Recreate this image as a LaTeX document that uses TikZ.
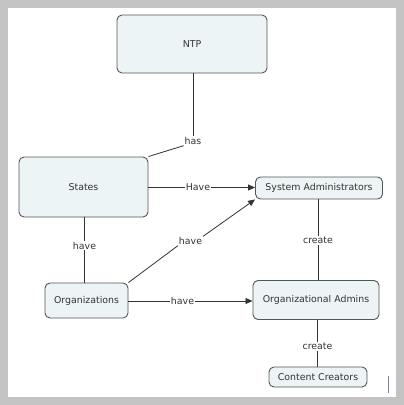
\documentclass[tikz,border=0pt]{standalone}
\usepackage{fontspec}
\setmainfont{DejaVu Sans}
\usetikzlibrary{arrows.meta}
\definecolor{bgray}{HTML}{C3C3C3}
\definecolor{boxfill}{HTML}{EDF4F6}
\definecolor{boxline}{HTML}{555555}
\definecolor{linkc}{HTML}{333333}
\definecolor{markc}{HTML}{7383AD}
\tikzset{
  concept/.style={draw=boxline, fill=boxfill, rounded corners=5pt, line width=0.9pt, inner sep=0pt,
    font=\fontsize{9.4}{11}\selectfont, text=black!80},
  linklabel/.style={fill=white, inner sep=0.8pt, font=\fontsize{9.4}{11}\selectfont, text=black!80},
  conn/.style={draw=linkc, line width=0.8pt},
  arr/.style={conn, -{Triangle[length=7pt,width=6pt]}},
}
\begin{document}
\begin{tikzpicture}[x=1pt,y=-1pt]
\useasboundingbox (0,0) rectangle (404,405);
\fill[bgray] (0,0) rectangle (404,405);
\fill[white] (8,8) rectangle (396,397);
% concepts
\node[concept, minimum width=150pt, minimum height=58pt] (ntp) at (192,44) {NTP};
\node[concept, minimum width=129pt, minimum height=60pt] (states) at (83.5,187) {States};
\node[concept, minimum width=127pt, minimum height=22pt] (sys) at (319,188) {System Administrators};
\node[concept, minimum width=83pt, minimum height=35pt] (org) at (86.5,300.5) {Organizations};
\node[concept, minimum width=126pt, minimum height=39pt] (oadm) at (316,300) {Organizational Admins};
\node[concept, minimum width=98pt, minimum height=20pt] (cc) at (318,377) {Content Creators};
% link labels
\node[linklabel] (lhas) at (193,141) {has};
\node[linklabel] (lhave1) at (198,187.5) {Have};
\node[linklabel] (lhave2) at (84.5,245.5) {have};
\node[linklabel] (lhave3) at (190.5,241) {have};
\node[linklabel] (lhave4) at (182.5,301) {have};
\node[linklabel] (lcr1) at (318,240.5) {create};
\node[linklabel] (lcr2) at (317.5,346.5) {create};
% connectors
\draw[conn] (ntp.south -| lhas) -- (lhas.north);
\draw[conn] (lhas.south west) -- (states.north east);
\draw[conn] (states.east |- lhave1) -- (lhave1.west);
\draw[arr] (lhave1.east) -- (sys.west |- lhave1);
\draw[conn] (states.south -| lhave2) -- (lhave2.north);
\draw[conn] (lhave2.south) -- (org.north -| lhave2);
\draw[conn] (org.north east) -- (lhave3.south west);
\draw[arr] (lhave3.north east) -- (sys.south west);
\draw[conn] (org.east |- lhave4) -- (lhave4.west);
\draw[arr] (lhave4.east) -- (oadm.west |- lhave4);
\draw[conn] (sys.south -| lcr1) -- (lcr1.north);
\draw[conn] (lcr1.south) -- (oadm.north -| lcr1);
\draw[conn] (oadm.south -| lcr2) -- (lcr2.north);
\draw[conn] (lcr2.south) -- (cc.north -| lcr2);
% small mark
\coordinate (m1) at (388.3,376);
\coordinate (m2) at (388.3,393);
\draw[markc, line width=1.3pt] (m1) -- (m2);
\end{tikzpicture}
\end{document}
